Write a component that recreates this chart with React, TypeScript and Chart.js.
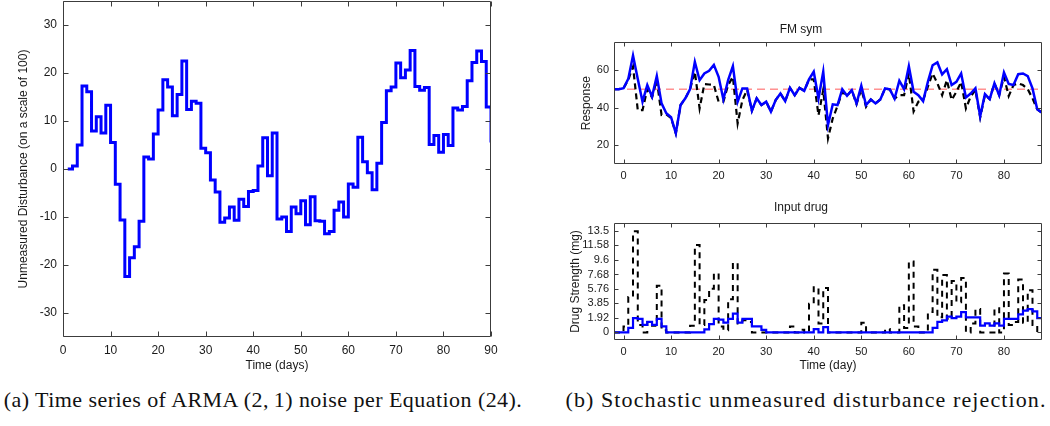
import React, { useEffect, useRef } from 'react';
import { Chart, registerables } from 'chart.js';

Chart.register(...registerables);

// ---------- Panel (a): ARMA(2,1) noise ----------
const noiseDays = [
  1, 2, 3, 4, 5, 6, 7, 8, 9, 10, 11, 12, 13, 14, 15, 16, 17, 18, 19, 20,
  21, 22, 23, 24, 25, 26, 27, 28, 29, 30, 31, 32, 33, 34, 35, 36, 37, 38, 39, 40,
  41, 42, 43, 44, 45, 46, 47, 48, 49, 50, 51, 52, 53, 54, 55, 56, 57, 58, 59, 60,
  61, 62, 63, 64, 65, 66, 67, 68, 69, 70, 71, 72, 73, 74, 75, 76, 77, 78, 79, 80,
  81, 82, 83, 84, 85, 86, 87, 88, 89, 90,
];
const noiseValues = [
  0, 0.6, 5.0, 17.3, 16.1, 7.9, 10.9, 7.5, 13.3, 5.5, -3.2, -10.6, -22.4, -18.5, -16.2, -10.9, 2.5, 2.1, 7.3, 12.3,
  18.6, 17.1, 11.1, 15.5, 22.5, 12.4, 14.1, 13.7, 4.3, 3.4, -2.3, -4.8, -11.1, -10.2, -7.9, -10.7, -6.3, -7.8, -4.7, -4.5,
  0.6, 6.5, -1.4, 7.5, -10.4, -10.0, -13.0, -7.9, -9.3, -6.6, -11.6, -5.8, -10.8, -10.9, -13.5, -13.0, -8.6, -6.9, -10.0, -3.1,
  -3.8, 6.6, 1.5, -0.8, -4.3, 1.2, 9.7, 16.3, 17.1, 22.1, 19.0, 20.6, 24.7, 17.2, 16.4, 17.0, 5.1, 7.0, 3.5, 7.2,
  4.9, 12.7, 12.3, 13.0, 18.4, 22.2, 24.6, 22.4, 12.9, 5.5,
];
const noiseXTicks = [0, 10, 20, 30, 40, 50, 60, 70, 80, 90];
const noiseYTicks = [-30, -20, -10, 0, 10, 20, 30];

// ---------- Panel (b): FM sym ----------
const simDays = [
  -2, -1, 0, 1, 2, 3, 4, 5, 6, 7, 8, 9, 10, 11, 12, 13, 14, 15, 16, 17,
  18, 19, 20, 21, 22, 23, 24, 25, 26, 27, 28, 29, 30, 31, 32, 33, 34, 35, 36, 37,
  38, 39, 40, 41, 42, 43, 44, 45, 46, 47, 48, 49, 50, 51, 52, 53, 54, 55, 56, 57,
  58, 59, 60, 61, 62, 63, 64, 65, 66, 67, 68, 69, 70, 71, 72, 73, 74, 75, 76, 77,
  78, 79, 80, 81, 82, 83, 84, 85, 86, 87, 88,
];
const responseControlled = [
  50, 50, 50.5, 55.5, 68, 55.5, 43.3, 52.2, 46, 57, 42.4, 37.1, 35, 26.4, 41.5, 45.1, 50, 64.6, 54.8, 58.4,
  59.8, 63, 56.6, 44.5, 54.8, 62.3, 43.3, 50.4, 50.4, 38.5, 45.1, 41.5, 43.3, 38, 44.2, 47.7, 43.6, 50.7, 46.8, 50.7,
  49.1, 55.2, 59.3, 45, 59.3, 30.8, 41.9, 41.5, 50, 46.5, 49.5, 42.4, 51.8, 41.5, 44.5, 42.4, 44.5, 50.4, 49.9, 45,
  54.5, 50, 62.3, 48.6, 46.8, 43.6, 53.9, 62.8, 64.3, 57.9, 60.7, 52.2, 53.9, 58.4, 45.6, 47.7, 50.5, 35.5, 47.4, 44.7,
  53.1, 46.8, 58.9, 52.8, 52.2, 58, 58.4, 57, 50.4, 39.2, 37.4,
];
const responseReference = [
  50, 50, 50.5, 55, 62, 38.8, 38.8, 50, 45.6, 54.8, 36.2, 36.5, 34.6, 26.4, 41.5, 45.1, 50, 59.3, 39.7, 52.7,
  52.5, 52.2, 43.3, 43.3, 52.2, 56.6, 31.7, 44.2, 49.6, 38.5, 45.1, 41.5, 43.3, 38, 44.2, 47.7, 43.6, 50.7, 46.8, 50.7,
  49.1, 55.2, 55.2, 36, 49.6, 23.7, 34.4, 41, 48.5, 46.5, 49.5, 42, 50, 40.6, 44.5, 42.4, 44.5, 50.4, 49.9, 45,
  46.8, 46.8, 58.4, 38.1, 43.3, 44.2, 51.3, 58.4, 53.1, 46.8, 54.8, 44.2, 48.6, 53.9, 39.7, 46, 49.6, 34.9, 46.8, 44.7,
  53.1, 46.8, 56.6, 46.3, 52.2, 53.1, 52.2, 50, 45.1, 39.2, 37.4,
];
const setpointDays = [-2, 88];
const setpointValues = [50, 50];
const simXTicks = [0, 10, 20, 30, 40, 50, 60, 70, 80];
const responseYTicks = [20, 40, 60];

// ---------- Panel (b): Input drug ----------
const drugControlled = [
  0, 0, 0, 0.6, 1.9, 1.8, 1.0, 1.4, 1.0, 1.8, 0.8, 0, 0, 0, 0, 0, 0, 0, 0, 0.4,
  1.1, 1.8, 1.7, 1.3, 1.8, 2.5, 1.3, 1.8, 1.8, 0.8, 0.8, 0.35, 0, 0, 0, 0, 0, 0, 0, 0,
  0, 0, 0.45, 0, 0.7, 0, 0, 0, 0, 0, 0, 0, 0, 0, 0, 0, 0, 0, 0, 0,
  0, 0, 0, 0, 0, 0, 0, 0.6, 1.4, 1.6, 2.1, 1.9, 2.1, 2.7, 2.0, 2.0, 2.0, 0.9, 1.2, 0.9,
  1.2, 0.9, 1.8, 1.8, 1.8, 2.4, 2.9, 3.1, 2.8, 1.9, 1.9,
];
const drugReference = [
  0, 0, 0.8, 4.7, 13.4, 1.0, 0, 1.4, 0.9, 6.2, 0.3, 0, 0, 0, 0, 0, 0.9, 11.6, 1.0, 4.3,
  5.8, 7.8, 0.8, 0.3, 4.4, 9.2, 1.2, 1.6, 1.4, 0, 0, 0, 0, 0, 0, 0, 0, 0.8, 0, 0.35,
  0, 3.8, 6.0, 1.2, 5.9, 0, 0, 0, 0, 0, 0, 0, 1.3, 0, 0, 0, 0, 0.45, 0, 0,
  3.6, 0.6, 9.4, 0.8, 0, 0, 2.7, 8.3, 2.0, 7.6, 1.8, 6.8, 4.0, 7.2, 0, 1.2, 3.1, 0, 0, 0,
  3.2, 0, 7.8, 1.0, 1.4, 7.0, 1.3, 5.6, 1.0, 0, 0,
];
const drugYTicks = [0, 1.92, 3.85, 5.76, 7.68, 9.6, 11.58, 13.5];
const drugYTickLabels = ['0', '1.92', '3.85', '5.76', '7.68', '9.6', '11.58', '13.5'];

const SANS = "'Liberation Sans', Arial, Helvetica, sans-serif";
const SERIF = "'Liberation Serif', 'Times New Roman', serif";

const pts = (xs: number[], ys: number[]) => xs.map((x, i) => ({ x, y: ys[i] }));

const boxPlugin = (tickLen: number) => ({
  id: 'matlabBox',
  afterDatasetsDraw(chart: any) {
    const { ctx, chartArea: a, scales } = chart;
    const L = Math.round(a.left) + 0.5;
    const R = Math.round(a.right) - 0.5;
    const T = Math.round(a.top) + 0.5;
    const B = Math.round(a.bottom) - 0.5;
    ctx.save();
    ctx.strokeStyle = '#3c3c3c';
    ctx.lineWidth = 1;
    ctx.beginPath();
    ctx.rect(L, T, R - L, B - T);
    const xs = scales.x;
    const ys = scales.y;
    xs.ticks.forEach((t: any) => {
      const px = Math.round(xs.getPixelForValue(t.value)) + 0.5;
      ctx.moveTo(px, B);
      ctx.lineTo(px, B - tickLen);
      ctx.moveTo(px, T);
      ctx.lineTo(px, T + tickLen);
    });
    ys.ticks.forEach((t: any) => {
      const py = Math.round(ys.getPixelForValue(t.value)) + 0.5;
      ctx.moveTo(L, py);
      ctx.lineTo(L + tickLen, py);
      ctx.moveTo(R, py);
      ctx.lineTo(R - tickLen, py);
    });
    ctx.stroke();
    ctx.restore();
  },
});

function useChart(ref: React.RefObject<HTMLCanvasElement>, makeConfig: () => any) {
  useEffect(() => {
    if (!ref.current) return;
    const chart = new Chart(ref.current, makeConfig());
    return () => chart.destroy();
  }, []);
}

function axis(opts: {
  min: number; max: number; ticks: number[]; size: number; horizontal: boolean;
  fontSize: number; pad: number; title?: string; titlePad?: any; labels?: string[];
}) {
  return {
    type: 'linear',
    min: opts.min,
    max: opts.max,
    grid: { display: false, drawTicks: false },
    border: { display: false },
    afterBuildTicks: (s: any) => {
      s.ticks = opts.ticks.map((v) => ({ value: v }));
    },
    afterFit: (s: any) => {
      if (opts.horizontal) s.height = opts.size;
      else s.width = opts.size;
      s.paddingLeft = 0;
      s.paddingRight = 0;
      s.paddingTop = 0;
      s.paddingBottom = 0;
    },
    ticks: {
      autoSkip: false,
      maxRotation: 0,
      padding: opts.pad,
      color: '#1a1a1a',
      font: { size: opts.fontSize, family: SANS },
      callback: (v: any) => {
        if (opts.labels) {
          const i = opts.ticks.indexOf(v);
          return i >= 0 ? opts.labels[i] : '';
        }
        return String(v);
      },
    },
    title: opts.title
      ? { display: true, text: opts.title, color: '#1a1a1a', font: { size: 12, family: SANS }, padding: opts.titlePad }
      : { display: false },
  };
}

const baseOptions = {
  responsive: false,
  animation: false,
  events: [],
  plugins: { legend: { display: false }, tooltip: { enabled: false } },
  elements: { point: { radius: 0 }, line: { tension: 0 } },
};

function NoisePanel() {
  const ref = useRef<HTMLCanvasElement>(null);
  useChart(ref, () => ({
    type: 'line',
    data: {
      datasets: [
        {
          data: pts(noiseDays, noiseValues),
          borderColor: '#0000ff',
          borderWidth: 3,
          stepped: 'before',
          fill: false,
        },
      ],
    },
    options: {
      ...baseOptions,
      layout: { padding: { left: 0, right: 9, top: 1, bottom: 0 } },
      scales: {
        x: axis({ min: 0, max: 90, ticks: noiseXTicks, size: 43, horizontal: true, fontSize: 12, pad: 6, title: 'Time (days)', titlePad: { top: 0, bottom: 7 } }),
        y: axis({ min: -35, max: 35, ticks: noiseYTicks, size: 63, horizontal: false, fontSize: 12, pad: 6, title: 'Unmeasured Disturbance (on a scale of 100)', titlePad: { top: 16, bottom: 0 } }),
      },
    },
    plugins: [boxPlugin(5)],
  }));
  return <canvas ref={ref} width={500} height={380} style={{ position: 'absolute', left: 0, top: 0 }} />;
}

function ResponsePanel() {
  const ref = useRef<HTMLCanvasElement>(null);
  useChart(ref, () => ({
    type: 'line',
    data: {
      datasets: [
        { data: pts(simDays, responseControlled), borderColor: '#0000ff', borderWidth: 2.5, order: 0 },
        { data: pts(simDays, responseReference), borderColor: '#000000', borderWidth: 2.2, borderDash: [6, 4], order: 1 },
        { data: pts(setpointDays, setpointValues), borderColor: '#ff5a5a', borderWidth: 1, borderDash: [8, 5], order: 2 },
      ],
    },
    options: {
      ...baseOptions,
      layout: { padding: { left: 0, right: 8, top: 0, bottom: 0 } },
      plugins: {
        ...baseOptions.plugins,
        title: { display: true, text: 'FM sym', color: '#1a1a1a', font: { size: 12, family: SANS, weight: 'normal' }, padding: { top: 4, bottom: 6 } },
      },
      scales: {
        x: axis({ min: -2, max: 88, ticks: simXTicks, size: 24, horizontal: true, fontSize: 11, pad: 5 }),
        y: axis({ min: 10, max: 75, ticks: responseYTicks, size: 54, horizontal: false, fontSize: 11, pad: 5, title: 'Response', titlePad: { top: 19, bottom: 0 } }),
      },
    },
    plugins: [boxPlugin(4)],
  }));
  return <canvas ref={ref} width={490} height={170} style={{ position: 'absolute', left: 560, top: 18 }} />;
}

function DrugPanel() {
  const ref = useRef<HTMLCanvasElement>(null);
  useChart(ref, () => ({
    type: 'line',
    data: {
      datasets: [
        { data: pts(simDays, drugControlled), borderColor: '#0000ff', borderWidth: 2.2, stepped: 'before', order: 0 },
        { data: pts(simDays, drugReference), borderColor: '#000000', borderWidth: 2, borderDash: [6, 5], stepped: 'before', order: 1 },
      ],
    },
    options: {
      ...baseOptions,
      layout: { padding: { left: 0, right: 8, top: 0, bottom: 0 } },
      plugins: {
        ...baseOptions.plugins,
        title: { display: true, text: 'Input drug', color: '#1a1a1a', font: { size: 12, family: SANS, weight: 'normal' }, padding: { top: 5, bottom: 8.6 } },
      },
      scales: {
        x: axis({ min: -2, max: 88, ticks: simXTicks, size: 35, horizontal: true, fontSize: 11, pad: 5, title: 'Time (day)', titlePad: { top: 0, bottom: 2 } }),
        y: axis({ min: -1, max: 14.5, ticks: drugYTicks, labels: drugYTickLabels, size: 54, horizontal: false, fontSize: 11, pad: 5, title: 'Drug Strength (mg)', titlePad: { top: 8, bottom: 0 } }),
      },
    },
    plugins: [boxPlugin(4)],
  }));
  return <canvas ref={ref} width={490} height={180} style={{ position: 'absolute', left: 560, top: 195 }} />;
}

const captionStyle: React.CSSProperties = {
  position: 'absolute',
  top: 386,
  fontFamily: SERIF,
  fontSize: 22,
  color: '#111',
  whiteSpace: 'nowrap',
  textAlign: 'center',
  lineHeight: '28px',
};

export default function App() {
  return (
    <div style={{ position: 'fixed', left: 0, top: 0, width: 1050, height: 426, background: '#fff', overflow: 'hidden' }}>
      <NoisePanel />
      <ResponsePanel />
      <DrugPanel />
      <div style={{ ...captionStyle, left: 0, width: 526, letterSpacing: '0.45px' }}>(a) Time series of ARMA (2,&thinsp;1) noise per Equation (24).</div>
      <div style={{ ...captionStyle, left: 562, width: 488, letterSpacing: '1.1px' }}>(b) Stochastic unmeasured disturbance rejection.</div>
    </div>
  );
}
